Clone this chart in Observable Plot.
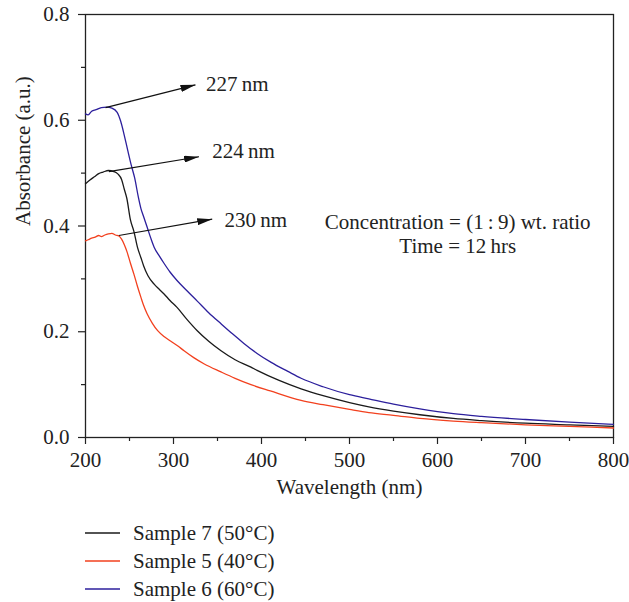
<!DOCTYPE html>
<html><head><meta charset="utf-8">
<script src="https://cdn.jsdelivr.net/npm/d3@7"></script>
<script src="https://cdn.jsdelivr.net/npm/@observablehq/plot@0.6"></script>
<style>
body{margin:0;background:#fff;font-family:"Liberation Serif",serif;}
#legend{position:relative;height:92px;width:629px;}
.row{position:absolute;left:85px;height:28px;display:flex;align-items:center;font-size:21px;color:#222;white-space:nowrap}
.row svg{margin-right:13px}
</style></head><body><div id="chart"></div><div id="legend"></div>
<script>
// ---- data ----
const seriesNames = ["Sample 7 (50°C)", "Sample 5 (40°C)", "Sample 6 (60°C)"];
const seriesColors = ["#1a1a1a", "#f2401e", "#2c1f9c"];

const wl7 = [200,205,210,215,220,226,232,237,241,244,247,251,255,259,263,266,271,278,284,289,296,304,315,327,340,354,370,388,395,420,445,470,500,522,550,580,618,650,700,750,800];
const ab7 = [0.480,0.487,0.493,0.499,0.502,0.505,0.503,0.498,0.488,0.470,0.452,0.412,0.390,0.360,0.340,0.325,0.306,0.290,0.280,0.272,0.259,0.246,0.224,0.202,0.182,0.164,0.147,0.133,0.127,0.108,0.092,0.079,0.066,0.058,0.050,0.043,0.036,0.032,0.027,0.024,0.021];

const wl5 = [200,203,207,211,215,218,222,226,230,234,238,241,244,247,251,255,259,263,266,270,276,282,290,297,305,312,323,335,354,370,388,410,445,470,500,522,550,580,618,650,700,750,800];
const ab5 = [0.372,0.374,0.377,0.379,0.382,0.380,0.383,0.385,0.386,0.383,0.381,0.375,0.365,0.352,0.330,0.309,0.286,0.265,0.250,0.234,0.216,0.202,0.190,0.182,0.173,0.164,0.151,0.139,0.124,0.112,0.100,0.088,0.070,0.062,0.053,0.047,0.042,0.036,0.031,0.028,0.024,0.021,0.018];

const wl6 = [200,203,207,212,218,224,230,236,240,244,248,252,256,260,263,266,270,274,278,284,289,296,304,315,327,340,354,367,380,395,411,430,445,470,500,522,550,580,618,650,700,750,800];
const ab6 = [0.612,0.610,0.617,0.620,0.624,0.625,0.623,0.615,0.598,0.572,0.543,0.515,0.490,0.455,0.433,0.418,0.398,0.378,0.360,0.343,0.330,0.313,0.297,0.278,0.258,0.236,0.215,0.196,0.178,0.159,0.142,0.125,0.112,0.096,0.081,0.073,0.063,0.054,0.045,0.040,0.034,0.029,0.025];

const annLabels = ["227\u2009nm", "224\u2009nm", "230\u2009nm"];
const annX1 = [222.8, 226.5, 237.9];
const annY1 = [0.624, 0.503, 0.382];
const annX2 = [325, 329, 344];
const annY2 = [0.667, 0.531, 0.413];
const annTX = [337, 344, 358];
const annTY = [0.669, 0.541, 0.410];

const noteText = ["Concentration = (1\u2009:\u20099) wt. ratio", "Time = 12\u2009hrs"];
const noteX = [623, 623];
const noteY = [0.407, 0.362];

const xTicks = [200,300,400,500,600,700,800];
const xMinor = [250,350,450,550,650,750];
const yTicks = [0,0.2,0.4,0.6,0.8];
const yMinor = [0.1,0.3,0.5,0.7];
const xLabel = "Wavelength (nm)";
const yLabel = "Absorbance (a.u.)";

// ---- build ----
const toRows = (w, a) => w.map((x, i) => ({x, y: a[i]}));
const lines = [toRows(wl7, ab7), toRows(wl5, ab5), toRows(wl6, ab6)];
const ann = annLabels.map((t, i) => ({t, x1: annX1[i], y1: annY1[i], x2: annX2[i], y2: annY2[i], tx: annTX[i], ty: annTY[i]}));
const notes = noteText.map((t, i) => ({t, x: noteX[i], y: noteY[i]}));

const ink = "#222";
const fs = 21;
const plot = Plot.plot({
  width: 629, height: 510,
  marginLeft: 85, marginRight: 16, marginTop: 14, marginBottom: 73,
  style: {fontFamily: "'Liberation Serif', serif", fontSize: fs + "px", color: ink, background: "#fff", overflow: "visible"},
  x: {domain: [200, 800]},
  y: {domain: [0, 0.8]},
  marks: [
    Plot.axisX({ticks: xTicks, tickSize: 7, tickPadding: 8, tickFormat: d => String(d), label: null, fontSize: fs, strokeWidth: 1.2}),
    Plot.axisX({ticks: xMinor, tickSize: 4, tickFormat: () => "", label: null, strokeWidth: 1.2}),
    Plot.axisY({ticks: yTicks, tickSize: 7, tickPadding: 9, tickFormat: d3.format(".1f"), label: null, fontSize: fs, strokeWidth: 1.2}),
    Plot.axisY({ticks: yMinor, tickSize: 4, tickFormat: () => "", label: null, strokeWidth: 1.2}),
    Plot.frame({stroke: ink, strokeWidth: 1.3}),
    ...lines.map((d, i) => Plot.line(d, {x: "x", y: "y", stroke: seriesColors[i], strokeWidth: 1.3, curve: "monotone-x"})),
    Plot.link(ann, {x1: "x1", y1: "y1", x2: "x2", y2: "y2", stroke: "#111", strokeWidth: 1.2, className: "annlink"}),
    Plot.text(ann, {x: "tx", y: "ty", text: "t", textAnchor: "start", fontSize: fs, fill: ink}),
    Plot.text(notes, {x: "x", y: "y", text: "t", textAnchor: "middle", fontSize: fs, fill: ink}),
    Plot.text([xLabel], {frameAnchor: "bottom", text: d => d, dy: 56, fontSize: fs, fill: ink}),
    Plot.text([yLabel], {frameAnchor: "left", text: d => d, dx: -62, rotate: -90, fontSize: fs, fill: ink})
  ]
});

// filled arrowheads on annotation links
const svg = d3.select(plot);
const defs = svg.insert("defs", ":first-child");
defs.append("marker")
  .attr("id", "ahead").attr("viewBox", "0 0 10 10").attr("refX", 10).attr("refY", 5)
  .attr("markerWidth", 15).attr("markerHeight", 7).attr("markerUnits", "userSpaceOnUse")
  .attr("orient", "auto").attr("preserveAspectRatio", "none")
  .append("path").attr("d", "M0,0L10,5L0,10Z").attr("fill", "#111");
svg.selectAll(".annlink path, .annlink line").attr("marker-end", "url(#ahead)");

document.getElementById("chart").appendChild(plot);

// legend
const leg = d3.select("#legend");
seriesNames.forEach((n, i) => {
  const row = leg.append("div").attr("class", "row").style("top", (9 + i * 28) + "px");
  const s = row.append("svg").attr("width", 35).attr("height", 6);
  s.append("line").attr("x1", 0).attr("x2", 35).attr("y1", 3).attr("y2", 3)
    .attr("stroke", seriesColors[i]).attr("stroke-width", 1.6);
  row.append("span").text(n);
});
</script></body></html>
